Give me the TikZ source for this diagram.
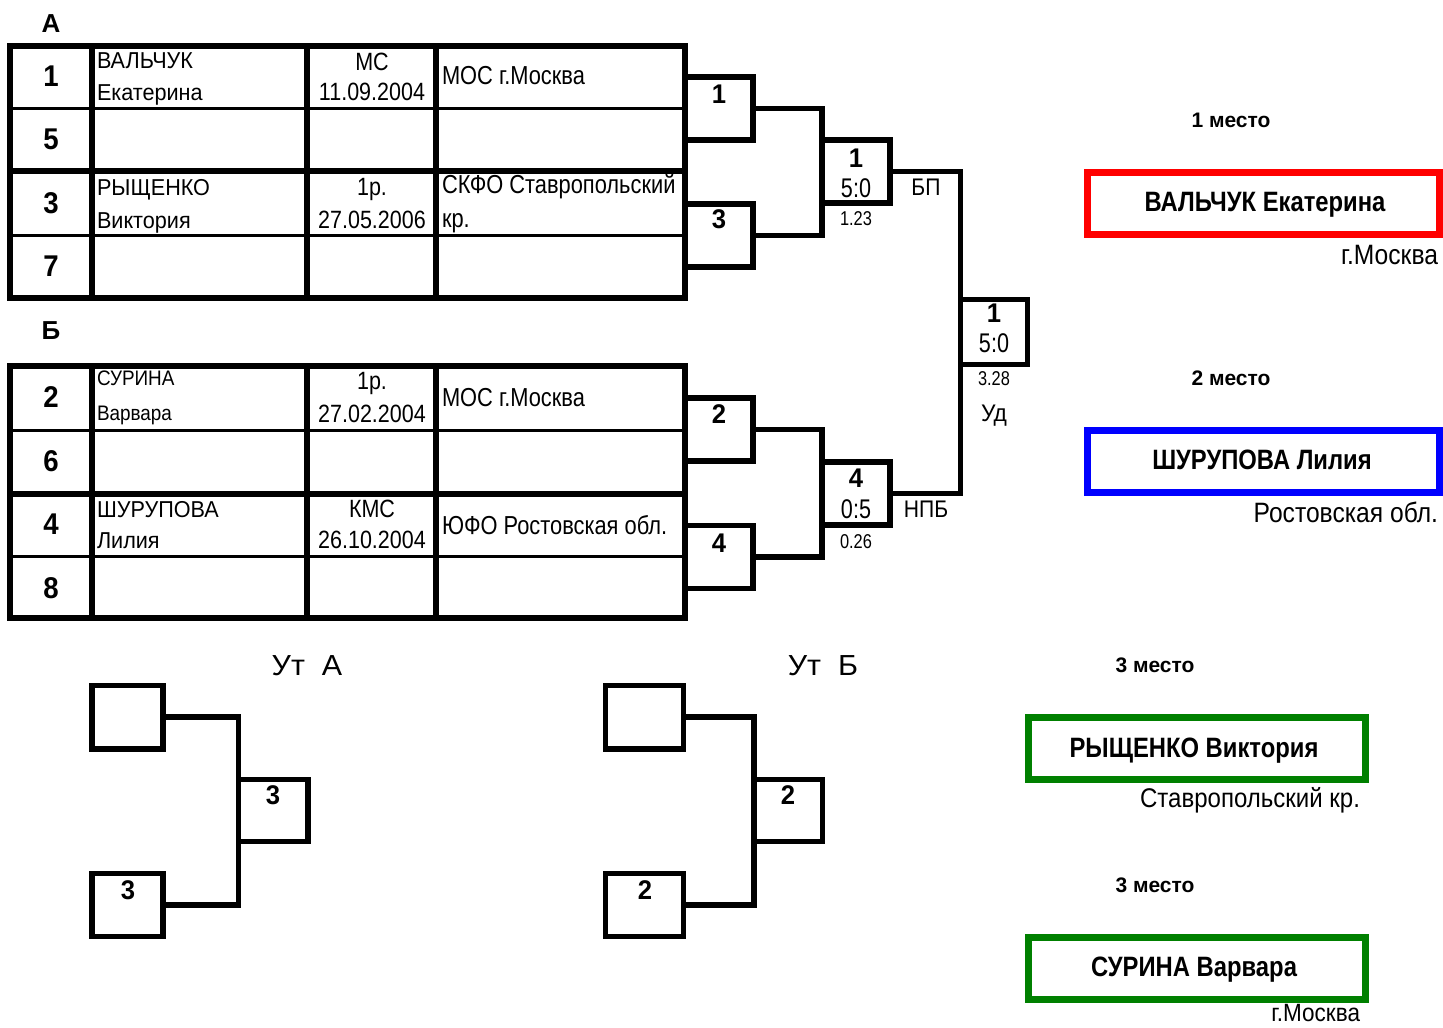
\documentclass[tikz,border=0pt]{standalone}
\usepackage{fontspec}
\setmainfont{Liberation Sans}
\usepackage{graphicx}
\newcommand{\tx}[3]{{\fontsize{#1}{#1}\selectfont\scalebox{#2}[1]{#3}}}
\newcommand{\txb}[3]{{\fontsize{#1}{#1}\selectfont\bfseries\scalebox{#2}[1]{#3}}}
\definecolor{pred}{RGB}{255,0,0}
\definecolor{pblue}{RGB}{0,0,255}
\definecolor{pgreen}{RGB}{0,128,0}
\begin{document}
\begin{tikzpicture}[x=1pt,y=-1pt,
  t/.style={inner sep=0pt,outer sep=0pt},
  ln/.style={line width=5.5pt,line join=miter},
  thin/.style={line width=3pt},
  bbox/.style={draw,line width=5.5pt,minimum width=68pt,minimum height=63pt,inner sep=0pt,outer sep=0pt},
  pbox/.style={draw,line width=7pt,minimum height=62pt,inner sep=0pt,outer sep=0pt},
]
\useasboundingbox[fill=white] (0,0) rectangle (1443,1028);

% ---------- Table A ----------
\node[t] (lA) at (51,24) {\txb{26}{1}{А}};
\draw[thin] (10,108) -- (685,108) (10,235) -- (685,235);
\draw[ln] (10,171) -- (685,171);
\draw[ln] (92,46) -- (92,298) (307,46) -- (307,298) (436,46) -- (436,298);
\draw[ln] (10,46) rectangle (685,298);

\node[t] (nA1) at (51,76) {\txb{30}{0.92}{1}};
\node[t] (nA5) at (51,139) {\txb{30}{0.92}{5}};
\node[t] (nA3) at (51,203) {\txb{30}{0.92}{3}};
\node[t] (nA7) at (51,266) {\txb{30}{0.92}{7}};

\node[t,anchor=base west] (nm1a) at (97,68) {\tx{23}{0.94}{ВАЛЬЧУК}};
\node[t,anchor=base west] (nm1b) at (97,100) {\tx{23}{0.94}{Екатерина}};
\node[t,anchor=base west] (nm3a) at (97,195) {\tx{23}{0.94}{РЫЩЕНКО}};
\node[t,anchor=base west] (nm3b) at (97,228) {\tx{23}{0.94}{Виктория}};

\node[t,anchor=base] (rk1a) at (372,70) {\tx{25}{0.86}{МС}};
\node[t,anchor=base] (rk1b) at (372,100) {\tx{25}{0.86}{11.09.2004}};
\node[t,anchor=base] (rk3a) at (372,195) {\tx{25}{0.86}{1р.}};
\node[t,anchor=base] (rk3b) at (372,228) {\tx{25}{0.86}{27.05.2006}};

\node[t,anchor=base west] (rg1) at (442,84) {\tx{26}{0.84}{МОС г.Москва}};
\node[t,anchor=base west] (rg3a) at (442,193) {\tx{26}{0.84}{СКФО Ставропольский}};
\node[t,anchor=base west] (rg3b) at (442,227) {\tx{26}{0.84}{кр.}};

% ---------- Table B ----------
\node[t] (lB) at (51,331) {\txb{26}{1}{Б}};
\draw[thin] (10,430) -- (685,430) (10,556) -- (685,556);
\draw[ln] (10,494) -- (685,494);
\draw[ln] (92,366) -- (92,618) (307,366) -- (307,618) (436,366) -- (436,618);
\draw[ln] (10,366) rectangle (685,618);

\node[t] (nB2) at (51,397) {\txb{30}{0.92}{2}};
\node[t] (nB6) at (51,461) {\txb{30}{0.92}{6}};
\node[t] (nB4) at (51,524) {\txb{30}{0.92}{4}};
\node[t] (nB8) at (51,588) {\txb{30}{0.92}{8}};

\node[t,anchor=base west] (nm2a) at (97,385) {\tx{21}{0.9}{СУРИНА}};
\node[t,anchor=base west] (nm2b) at (97,420) {\tx{21}{0.9}{Варвара}};
\node[t,anchor=base west] (nm4a) at (97,517) {\tx{23}{0.94}{ШУРУПОВА}};
\node[t,anchor=base west] (nm4b) at (97,548) {\tx{23}{0.94}{Лилия}};

\node[t,anchor=base] (rk2a) at (372,389) {\tx{25}{0.86}{1р.}};
\node[t,anchor=base] (rk2b) at (372,422) {\tx{25}{0.86}{27.02.2004}};
\node[t,anchor=base] (rk4a) at (372,517) {\tx{25}{0.86}{КМС}};
\node[t,anchor=base] (rk4b) at (372,548) {\tx{25}{0.86}{26.10.2004}};

\node[t,anchor=base west] (rg2) at (442,406) {\tx{26}{0.84}{МОС г.Москва}};
\node[t,anchor=base west] (rg4) at (442,534) {\tx{26}{0.84}{ЮФО Ростовская обл.}};

% ---------- Main bracket ----------
\node[bbox] (b1) at (719,108.5) {};
\node[bbox] (b3) at (719,235.5) {};
\node[bbox] (b2) at (719,429.5) {};
\node[bbox] (b4) at (719,557) {};
\node[bbox] (sf1) at (856,171.5) {};
\node[bbox] (sf4) at (856,493.5) {};
\node[bbox,minimum width=67pt,minimum height=65pt] (fin) at (994,332) {};

\draw[ln] (b1.east) -| (sf1.west) |- (b3.east);
\draw[ln] (b2.east) -| (sf4.west) |- (b4.east);
\draw[ln] (sf1.east) -| (fin.west) |- (sf4.east);

\node[t] (tb1) at (719,94) {\txb{27}{0.95}{1}};
\node[t] (tb3) at (719,219) {\txb{27}{0.95}{3}};
\node[t] (tb2) at (719,414) {\txb{27}{0.95}{2}};
\node[t] (tb4) at (719,543) {\txb{27}{0.95}{4}};

\node[t] (tsf1) at (856,158) {\txb{27}{0.95}{1}};
\node[t,anchor=base] (ssf1) at (856,197) {\tx{27}{0.8}{5:0}};
\node[t,anchor=base] (msf1) at (856,225) {\tx{20}{0.82}{1.23}};
\node[t,anchor=base] (wsf1) at (926,195) {\tx{24}{0.88}{БП}};

\node[t] (tsf4) at (856,478) {\txb{27}{0.95}{4}};
\node[t,anchor=base] (ssf4) at (856,518) {\tx{27}{0.8}{0:5}};
\node[t,anchor=base] (msf4) at (856,548) {\tx{20}{0.82}{0.26}};
\node[t,anchor=base] (wsf4) at (926,517) {\tx{24}{0.88}{НПБ}};

\node[t] (tfin) at (994,313) {\txb{27}{0.95}{1}};
\node[t,anchor=base] (sfin) at (994,352) {\tx{27}{0.8}{5:0}};
\node[t,anchor=base] (mfin) at (994,385) {\tx{20}{0.82}{3.28}};
\node[t,anchor=base] (wfin) at (994,421) {\tx{24}{0.95}{Уд}};

% ---------- Consolation brackets ----------
\node[t,anchor=base] (utA) at (307,675) {\tx{29}{1.05}{Ут\ \ А}};
\node[bbox,minimum width=71pt,minimum height=63.5pt] (ua1) at (127.5,717) {};
\node[bbox,minimum width=69.5pt,minimum height=62pt] (ua3) at (273,810.5) {};
\node[bbox,minimum width=71pt,minimum height=63pt] (ua2) at (127.5,905) {};
\draw[ln] (ua1.east) -| (ua3.west) |- (ua2.east);
\node[t] (tua3) at (273,795) {\txb{27}{0.95}{3}};
\node[t] (tua2) at (128,890) {\txb{27}{0.95}{3}};

\node[t,anchor=base] (utB) at (823,675) {\tx{29}{1.05}{Ут\ \ Б}};
\node[bbox,minimum width=78pt,minimum height=63.5pt] (ub1) at (644.5,717) {};
\node[bbox,minimum width=68.5pt,minimum height=62pt] (ub3) at (788,810.5) {};
\node[bbox,minimum width=78pt,minimum height=63pt] (ub2) at (644.5,905) {};
\draw[ln] (ub1.east) -| (ub3.west) |- (ub2.east);
\node[t] (tub3) at (788,795) {\txb{27}{0.95}{2}};
\node[t] (tub2) at (645,890) {\txb{27}{0.95}{2}};

% ---------- Places ----------
\node[t] (pl1) at (1231,120) {\txb{21}{1}{1 место}};
\node[pbox,draw=pred,minimum width=352pt] (p1) at (1263,203) {};
\node[t,anchor=base] (p1n) at (1265,211) {\txb{28}{0.85}{ВАЛЬЧУК Екатерина}};
\node[t,anchor=base east] (p1c) at (1438,264) {\tx{28}{0.88}{г.Москва}};

\node[t] (pl2) at (1231,378) {\txb{21}{1}{2 место}};
\node[pbox,draw=pblue,minimum width=352pt] (p2) at (1263,461.5) {};
\node[t,anchor=base] (p2n) at (1262,469) {\txb{28}{0.85}{ШУРУПОВА Лилия}};
\node[t,anchor=base east] (p2c) at (1438,522) {\tx{28}{0.88}{Ростовская обл.}};

\node[t] (pl3) at (1155,665) {\txb{21}{1}{3 место}};
\node[pbox,draw=pgreen,minimum width=337pt] (p3) at (1196.5,748) {};
\node[t,anchor=base] (p3n) at (1194,757) {\txb{28}{0.85}{РЫЩЕНКО Виктория}};
\node[t,anchor=base east] (p3c) at (1360,807) {\tx{27}{0.89}{Ставропольский кр.}};

\node[t] (pl4) at (1155,885) {\txb{21}{1}{3 место}};
\node[pbox,draw=pgreen,minimum width=337pt] (p4) at (1196.5,968) {};
\node[t,anchor=base] (p4n) at (1194,976) {\txb{28}{0.85}{СУРИНА Варвара}};
\node[t,anchor=base east] (p4c) at (1360,1021) {\tx{25}{0.9}{г.Москва}};
\end{tikzpicture}
\end{document}
